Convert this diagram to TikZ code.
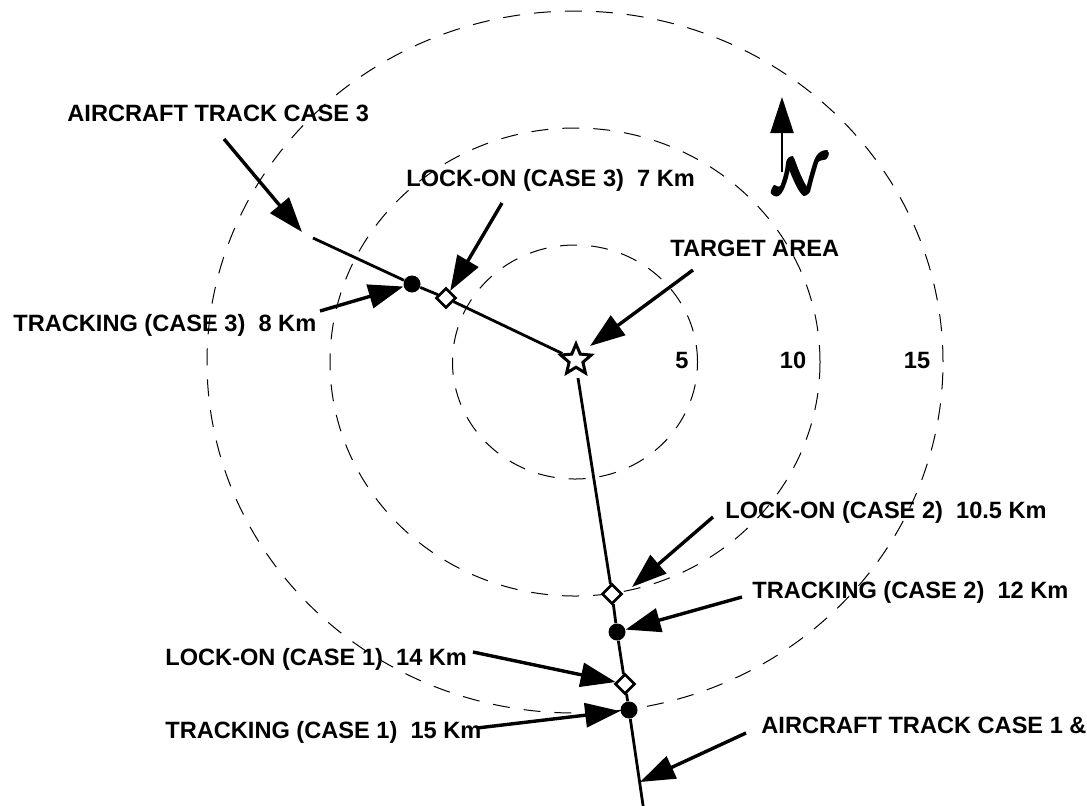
\documentclass[tikz,border=0pt]{standalone}
\usepackage{fontspec}
\setmainfont{Liberation Sans}
\usepackage{amsmath,bm}
\usetikzlibrary{arrows.meta,shapes.geometric}
\newcommand{\heavyN}{%
  \rlap{$\boldsymbol{\mathcal{N}}$}%
  \rlap{\kern0.7pt$\boldsymbol{\mathcal{N}}$}%
  \rlap{\kern1.4pt$\boldsymbol{\mathcal{N}}$}%
  \rlap{\kern0.7pt\raisebox{0.6pt}{$\boldsymbol{\mathcal{N}}$}}%
  \kern0.7pt\raisebox{-0.6pt}{$\boldsymbol{\mathcal{N}}$}}
\begin{document}
\begin{tikzpicture}[x=0.5pt,y=-0.5pt,
  lbl/.style={anchor=base west,inner sep=0,font=\fontsize{11.8}{13}\selectfont\bfseries},
  num/.style={anchor=base,inner sep=0,font=\fontsize{11.8}{13}\selectfont\bfseries},
  ring/.style={dash pattern=on 8.5pt off 7pt,line width=0.5pt},
  track/.style={line width=1.4pt},
  ptr/.style={line width=1.7pt,-{Triangle[length=17.5pt,width=12pt]}},
  dotm/.style={circle,fill=black,minimum size=8.5pt,inner sep=0},
  diam/.style={diamond,draw,fill=white,line width=1.3pt,minimum size=10pt,inner sep=0},
  starm/.style={star,star points=5,star point ratio=2.2,draw,fill=white,line width=1.5pt,minimum size=16pt,inner sep=0},
]
\useasboundingbox (0,0) rectangle (1087,805);
\fill[white] (0,0) rectangle (1087,805);
\clip (0,0) rectangle (1087,805);

% range rings
\coordinate (O) at (575,362);
\draw[ring] (O) ellipse [x radius=61.25pt, y radius=58.5pt];
\draw[ring] (O) ellipse [x radius=122.5pt, y radius=117pt];
\draw[ring] (O) ellipse [x radius=184pt, y radius=175.5pt];

% target
\node[starm] (star) at (576,360) {};

% track case 3
\coordinate (t3s) at (313,238);
\node[dotm] (dot3) at (412,284) {};
\node[diam] (dia3) at (446,298) {};
\draw[track] (t3s) -- (dot3) -- (dia3) -- (star);

% track case 1 & 2
\coordinate (s12) at (578,378);
\coordinate (t12e) at (644,812);
\node[diam] (dia2) at (612,594) {};
\node[dotm] (dot2) at (617,632) {};
\node[diam] (dia1) at (625,684) {};
\node[dotm] (dot1) at (629,710) {};
\draw[track] (s12) -- (dia2) -- (dot2) -- (dia1) -- (dot1) -- (t12e);

% labels
\node[lbl] (lA3) at (67,121) {AIRCRAFT TRACK CASE 3};
\node[lbl] (lL3) at (406,186) {LOCK-ON (CASE 3)~~7 Km};
\node[lbl] (lTA) at (670,256) {TARGET AREA};
\node[lbl] (lT3) at (13,331) {TRACKING (CASE 3)~~8 Km};
\node[num] (n5) at (682,368) {5};
\node[num] (n10) at (793,368) {10};
\node[num] (n15) at (917,368) {15};
\node[lbl] (lL2) at (725,518) {LOCK-ON (CASE 2)~~10.5 Km};
\node[lbl] (lT2) at (752,598) {TRACKING (CASE 2)~~12 Km};
\node[lbl] (lL1) at (165,665) {LOCK-ON (CASE 1)~~14 Km};
\node[lbl] (lT1) at (165,738) {TRACKING (CASE 1)~~15 Km};
\node[lbl] (lA12) at (761,733) {AIRCRAFT TRACK CASE 1 \&};

% pointers
\coordinate (a3t) at (224,139); \coordinate (a3h) at (302,232);
\draw[ptr] (a3t) -- (a3h);
\coordinate (tr3t) at (320,311);
\draw[ptr] (tr3t) -- (dot3);
\coordinate (lo3t) at (502,203);
\draw[ptr] (lo3t) -- (dia3);
\coordinate (tat) at (693,270); \coordinate (tah) at (590,346);
\draw[ptr] (tat) -- (tah);
\coordinate (lo2t) at (713,517); \coordinate (lo2h) at (632,587);
\draw[ptr] (lo2t) -- (lo2h);
\coordinate (tr2t) at (742,597);
\draw[ptr] (tr2t) -- (dot2);
\coordinate (lo1t) at (473,652);
\draw[ptr] (lo1t) -- (dia1);
\coordinate (tr1t) at (477,728);
\draw[ptr] (tr1t) -- (dot1);
\coordinate (a12t) at (746,733); \coordinate (a12h) at (640,782);
\draw[ptr] (a12t) -- (a12h);

% north
\coordinate (nt) at (782,172); \coordinate (nh) at (782,97);
\draw[line width=1.1pt,-{Triangle[length=18pt,width=11.5pt]}] (nt) -- (nh);
\node[inner sep=0] (N) at (800,176) {\fontsize{30}{30}\selectfont\heavyN};
\end{tikzpicture}
\end{document}
